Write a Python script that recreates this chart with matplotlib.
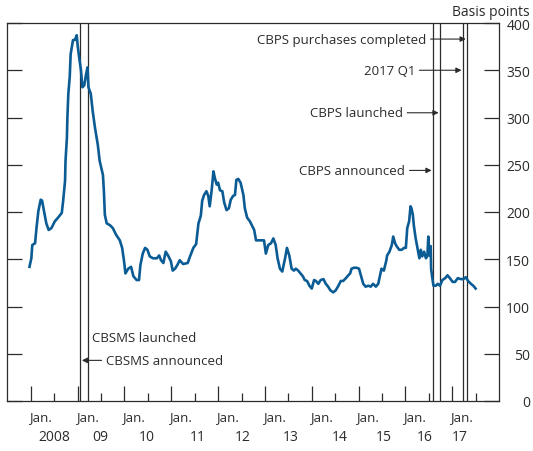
import numpy as np
import matplotlib.pyplot as plt
from matplotlib.ticker import MultipleLocator, FixedLocator

# spread series, decimal year vs basis points
years = [
    2007.97, 2008.01, 2008.03, 2008.09, 2008.12, 2008.16, 2008.21, 2008.24, 2008.28, 2008.33,
    2008.38, 2008.44, 2008.51, 2008.58, 2008.66, 2008.69, 2008.73, 2008.74, 2008.77, 2008.78,
    2008.80, 2008.83, 2008.85, 2008.90, 2008.94, 2008.98, 2009.00, 2009.03, 2009.07, 2009.10,
    2009.14, 2009.18, 2009.21, 2009.23, 2009.28, 2009.32, 2009.37, 2009.43, 2009.47, 2009.54,
    2009.56, 2009.58, 2009.62, 2009.69, 2009.75, 2009.82, 2009.90, 2009.95, 2009.99, 2010.02,
    2010.08, 2010.14, 2010.19, 2010.26, 2010.31, 2010.34, 2010.39, 2010.44, 2010.49, 2010.54,
    2010.61, 2010.69, 2010.74, 2010.78, 2010.83, 2010.88, 2010.93, 2010.99, 2011.03, 2011.08,
    2011.13, 2011.18, 2011.25, 2011.35, 2011.40, 2011.47, 2011.53, 2011.58, 2011.63, 2011.66,
    2011.70, 2011.75, 2011.79, 2011.82, 2011.86, 2011.90, 2011.93, 2011.97, 2012.00, 2012.04,
    2012.09, 2012.13, 2012.18, 2012.23, 2012.27, 2012.32, 2012.36, 2012.39, 2012.43, 2012.48,
    2012.54, 2012.57, 2012.62, 2012.68, 2012.73, 2012.77, 2012.81, 2012.87, 2012.93, 2012.98,
    2013.02, 2013.07, 2013.13, 2013.18, 2013.23, 2013.27, 2013.32, 2013.37, 2013.43, 2013.47,
    2013.52, 2013.57, 2013.62, 2013.66, 2013.71, 2013.76, 2013.81, 2013.85, 2013.90, 2013.95,
    2014.00, 2014.05, 2014.09, 2014.14, 2014.19, 2014.25, 2014.30, 2014.35, 2014.40, 2014.46,
    2014.51, 2014.57, 2014.62, 2014.67, 2014.73, 2014.78, 2014.82, 2014.85, 2014.90, 2014.96,
    2015.01, 2015.05, 2015.10, 2015.15, 2015.21, 2015.26, 2015.31, 2015.37, 2015.42, 2015.46,
    2015.49, 2015.54, 2015.59, 2015.61, 2015.66, 2015.71, 2015.74, 2015.78, 2015.81, 2015.87,
    2015.92, 2015.97, 2016.01, 2016.04, 2016.08, 2016.11, 2016.13, 2016.16, 2016.18, 2016.22,
    2016.25, 2016.30, 2016.33, 2016.36, 2016.40, 2016.44, 2016.47, 2016.49, 2016.51, 2016.54,
    2016.55, 2016.57, 2016.60, 2016.65, 2016.69, 2016.74, 2016.79, 2016.85, 2016.90, 2016.95,
    2017.01, 2017.06, 2017.12, 2017.18, 2017.24, 2017.29, 2017.34, 2017.40, 2017.45, 2017.50,
]
spread = [
    142, 151, 165, 167, 183, 201, 213, 212, 201, 188,
    181, 183, 190, 194, 199, 212, 233, 254, 279, 300,
    325, 343, 367, 382, 382, 387, 376, 364, 350, 332,
    334, 346, 353, 332, 325, 307, 289, 271, 254, 239,
    222, 197, 188, 186, 183, 176, 170, 162, 148, 135,
    140, 142, 132, 128, 128, 144, 156, 162, 160, 153,
    151, 151, 154, 149, 146, 158, 154, 148, 138, 140,
    144, 149, 145, 146, 153, 162, 166, 188, 196, 212,
    218, 222, 217, 206, 222, 243, 236, 229, 231, 223,
    222, 210, 202, 204, 213, 217, 218, 234, 235, 231,
    218, 204, 194, 190, 185, 181, 170, 170, 170, 170,
    156, 165, 167, 172, 165, 151, 140, 137, 151, 162,
    154, 140, 138, 140, 138, 135, 132, 128, 127, 122,
    119, 128, 127, 124, 128, 129, 124, 121, 117, 115,
    117, 122, 127, 127, 130, 133, 135, 140, 141, 141,
    140, 133, 124, 121, 122, 121, 124, 121, 124, 133,
    140, 138, 148, 154, 158, 165, 174, 167, 164, 160,
    160, 162, 162, 183, 190, 206, 204, 197, 186, 172,
    164, 151, 160, 153, 158, 151, 154, 174, 154, 164,
    140, 132, 122, 122, 124, 122, 128, 130, 133, 130,
    126, 126, 130, 129, 129, 131, 127, 124, 122, 119,
]

# event dates (decimal years)
event_x = [2009.05, 2009.23, 2016.59, 2016.74, 2017.24, 2017.32]

year_labels = ["2008", "09", "10", "11", "12", "13", "14", "15", "16", "17"]
jan_ticks = list(range(2008, 2018))
year_offsets = [0.49, 0.49, 0.47, 0.56, 0.53, 0.56, 0.60, 0.53, 0.41, 0.17]

plt.rcParams["font.family"] = ["Open Sans", "DejaVu Sans"]
plt.rcParams["font.size"] = 9.5
ink = "#2b2b2b"

fig = plt.figure(figsize=(5.33, 4.52), dpi=100)
ax = fig.add_axes([7 / 533, 50 / 452, 492 / 533, 378 / 452])

ax.plot(years, spread, color="#0b5b94", lw=1.9, zorder=3, solid_joinstyle="round")
for x in event_x:
    ax.axvline(x, color=ink, lw=0.9, zorder=2)

ax.set_xlim(2007.49, 2018.0)
ax.set_ylim(0, 400)

for s in ax.spines.values():
    s.set_color(ink)
    s.set_linewidth(0.9)

ax.yaxis.set_major_locator(MultipleLocator(50))
ax.tick_params(axis="y", which="both", left=True, right=True, labelleft=False,
               labelright=True, direction="in", length=11, width=0.9,
               color=ink, labelcolor=ink, pad=22.5, labelsize=10)
for lab in ax.get_yticklabels():
    lab.set_horizontalalignment("right")

ax.xaxis.set_major_locator(FixedLocator(jan_ticks))
ax.xaxis.set_minor_locator(FixedLocator([y + 0.5 for y in jan_ticks]))
ax.tick_params(axis="x", which="major", direction="in", length=11, width=0.9,
               color=ink, labelbottom=False)
ax.tick_params(axis="x", which="minor", direction="in", length=5.5, width=0.9,
               color=ink)

trans = ax.get_xaxis_transform()
for y0, lab, off in zip(jan_ticks, year_labels, year_offsets):
    ax.annotate("Jan.", xy=(y0 + 0.2, 0), xycoords=trans, xytext=(0, -16),
                textcoords="offset pixels", ha="center", va="center",
                color=ink, fontsize=9.5)
    ax.annotate(lab, xy=(y0 + off, 0), xycoords=trans, xytext=(0, -36),
                textcoords="offset pixels", ha="center", va="center",
                color=ink, fontsize=10)

fig.text(530 / 533, 1 - 12 / 452, "Basis points", ha="right", va="center",
         color=ink, fontsize=10)

arrow = dict(arrowstyle="-|>", color=ink, lw=0.8, mutation_scale=8,
             shrinkA=1, shrinkB=0)
ax.annotate("CBPS purchases completed", xy=(2017.29, 383), xytext=(2016.45, 383),
            ha="right", va="center", color=ink, arrowprops=arrow)
ax.annotate("2017 Q1", xy=(2017.2, 350), xytext=(2016.21, 350),
            ha="right", va="center", color=ink, arrowprops=arrow)
ax.annotate("CBPS launched", xy=(2016.71, 305), xytext=(2015.95, 305),
            ha="right", va="center", color=ink, arrowprops=arrow)
ax.annotate("CBPS announced", xy=(2016.56, 244), xytext=(2016.0, 244),
            ha="right", va="center", color=ink, arrowprops=arrow)
ax.text(2009.30, 67, "CBSMS launched", ha="left", va="center", color=ink)
ax.annotate("CBSMS announced", xy=(2009.09, 43), xytext=(2009.60, 43),
            ha="left", va="center", color=ink, arrowprops=arrow)

fig.savefig("out.png", dpi=100)
